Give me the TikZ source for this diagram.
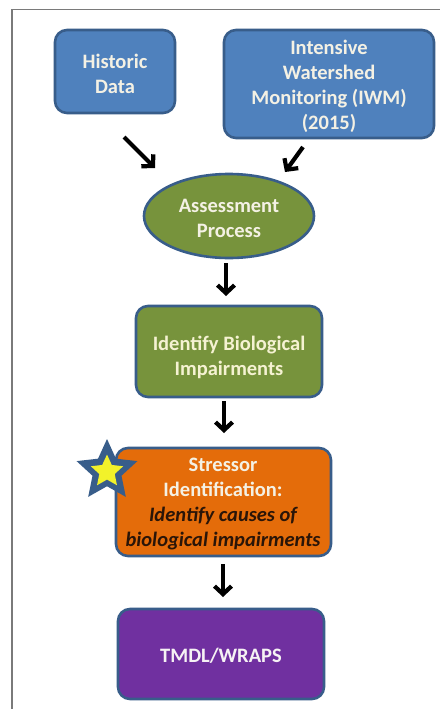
\documentclass[tikz,border=0pt]{standalone}
\usepackage{fontspec}
\setmainfont{Carlito}
\usetikzlibrary{arrows.meta,shapes.geometric}
\definecolor{bfill}{HTML}{4F81BD}
\definecolor{bline}{HTML}{385D8A}
\definecolor{gfill}{HTML}{77933C}
\definecolor{ofill}{HTML}{E46C0A}
\definecolor{pfill}{HTML}{7030A0}
\definecolor{frame}{HTML}{7A7A7A}
\definecolor{txtw}{HTML}{F4F1E4}
\definecolor{txtdark}{HTML}{2A1508}
\definecolor{staryel}{HTML}{F2F22A}
\begin{document}
\begin{tikzpicture}[x=1pt,y=-1pt,
  boxstyle/.style={draw=bline,line width=2.6pt,rounded corners=12pt},
  lbl/.style={align=center,font=\bfseries\fontsize{20.5}{25}\selectfont,text=txtw,inner sep=0pt},
  arr/.style={line width=4.2pt,-{Straight Barb[length=8pt,width=17pt,line width=4.2pt]}},
  starshape/.style={star,star points=5,star point ratio=2.1,inner sep=0pt,draw=none}]
\useasboundingbox (0,0) rectangle (440,709);
\fill[white] (0,0) rectangle (440,709);
\draw[frame,line width=1.3pt] (12,709) -- (12,9.5) -- (440,9.5);
% boxes
\draw[boxstyle,fill=bfill] (55,30) rectangle (175,113);
\node[lbl] (hist) at (115,74) {Historic\\Data};
\draw[boxstyle,fill=bfill] (224,30) rectangle (434,138);
\node[lbl] (iwm) at (329,86) {Intensive\\Watershed\\Monitoring (IWM)\\(2015)};
\draw[draw=bline,line width=2.6pt,fill=gfill] (229,216) ellipse (85 and 42);
\node[lbl] (assess) at (229,218) {Assessment\\Process};
\draw[boxstyle,fill=gfill] (136,306) rectangle (322,397);
\node[lbl,text=txtw!92!yellow] (ident) at (229,357) {Identify Biological\\Impairments};
\draw[boxstyle,fill=ofill] (116,448) rectangle (331,556);
\node[lbl] (stress) at (223,504) {Stressor\\Identification:\\{\color{txtdark}\itshape Identify causes of}\\{\color{txtdark}\itshape biological impairments}};
\draw[boxstyle,fill=pfill] (118,609) rectangle (324,699);
\node[lbl,text=txtw!85!pfill!30] (tmdl) at (221,656) {TMDL/WRAPS};
% star
\node[starshape,minimum size=64pt,fill=bline] (starout) at (107,471) {};
\node[starshape,minimum size=34pt,fill=staryel] (starin) at (107,471.5) {};
% arrows
\coordinate (a1s) at (124,137);
\coordinate (a1e) at (155,168);
\coordinate (a2s) at (303,147);
\coordinate (a2e) at (285,172);
\coordinate (a3s) at (226,263);
\coordinate (a3e) at (226,296);
\coordinate (a4s) at (224,401);
\coordinate (a4e) at (224,433);
\coordinate (a5s) at (223,564);
\coordinate (a5e) at (223,597);
\draw[arr] (a1s) -- (a1e);
\draw[arr] (a2s) -- (a2e);
\draw[arr] (a3s) -- (a3e);
\draw[arr] (a4s) -- (a4e);
\draw[arr] (a5s) -- (a5e);
\end{tikzpicture}
\end{document}
